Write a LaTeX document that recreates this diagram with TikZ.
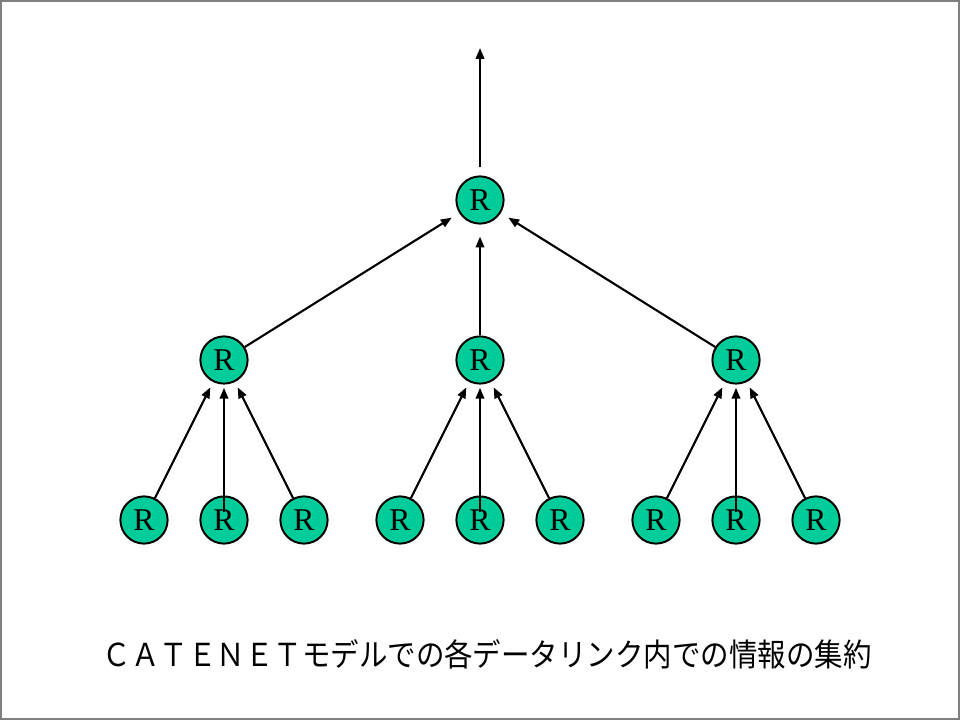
\documentclass[tikz,border=0pt]{standalone}
\usepackage{fontspec}
\usetikzlibrary{arrows.meta,calc,positioning}
\newfontfamily\rfont{Liberation Serif}
\newfontfamily\jpfont{Noto Sans CJK JP}
\definecolor{rgreen}{RGB}{0,204,153}
\tikzset{
  rtr/.style={circle, draw=black, line width=1.4pt, fill=rgreen, minimum size=1.18cm, inner sep=0pt, font=\rfont\fontsize{22.5}{22.5}\selectfont},
  up/.style={-{Triangle[length=0.27cm,width=0.21cm]}, line width=1.5pt}
}
\begin{document}
\begin{tikzpicture}
\useasboundingbox (0,0) rectangle (24,18);
\draw[gray, line width=1.4pt] (0.025,0.025) rectangle (23.975,17.975);
% routers
\node (root) at (12,13) [rtr] {R};
\node (m1) at (5.6,9) [rtr] {R};
\node (m2) at (12,9) [rtr] {R};
\node (m3) at (18.4,9) [rtr] {R};
\node (l11) at (3.6,5) [rtr] {R};
\node (l12) at (5.6,5) [rtr] {R};
\node (l13) at (7.6,5) [rtr] {R};
\node (l21) at (10,5) [rtr] {R};
\node (l22) at (12,5) [rtr] {R};
\node (l23) at (14,5) [rtr] {R};
\node (l31) at (16.4,5) [rtr] {R};
\node (l32) at (18.4,5) [rtr] {R};
\node (l33) at (20.4,5) [rtr] {R};
\coordinate (out) at (12,16.8);
% upward links
\draw[up] ($(root.north)+(0,0.2)$) -- (out);
\draw[up, shorten >=0.22cm] (m1) -- (root);
\draw[up, shorten >=0.3cm] (m2) -- (root);
\draw[up, shorten >=0.22cm] (m3) -- (root);
\draw[up, shorten >=0.15cm] (l11) -- (m1);
\draw[up, shorten >=0.08cm] ($(l12)+(0,0.2)$) -- (m1);
\draw[up, shorten >=0.15cm] (l13) -- (m1);
\draw[up, shorten >=0.15cm] (l21) -- (m2);
\draw[up, shorten >=0.08cm] ($(l22)+(0,0.2)$) -- (m2);
\draw[up, shorten >=0.15cm] (l23) -- (m2);
\draw[up, shorten >=0.15cm] (l31) -- (m3);
\draw[up, shorten >=0.08cm] ($(l32)+(0,0.2)$) -- (m3);
\draw[up, shorten >=0.15cm] (l33) -- (m3);
% caption
\node (cap) at (12.18,1.63) [xscale=0.9, font=\jpfont\fontsize{22.5}{22.5}\selectfont] {ＣＡＴＥＮＥＴモデルでの各データリンク内での情報の集約};
\end{tikzpicture}
\end{document}
